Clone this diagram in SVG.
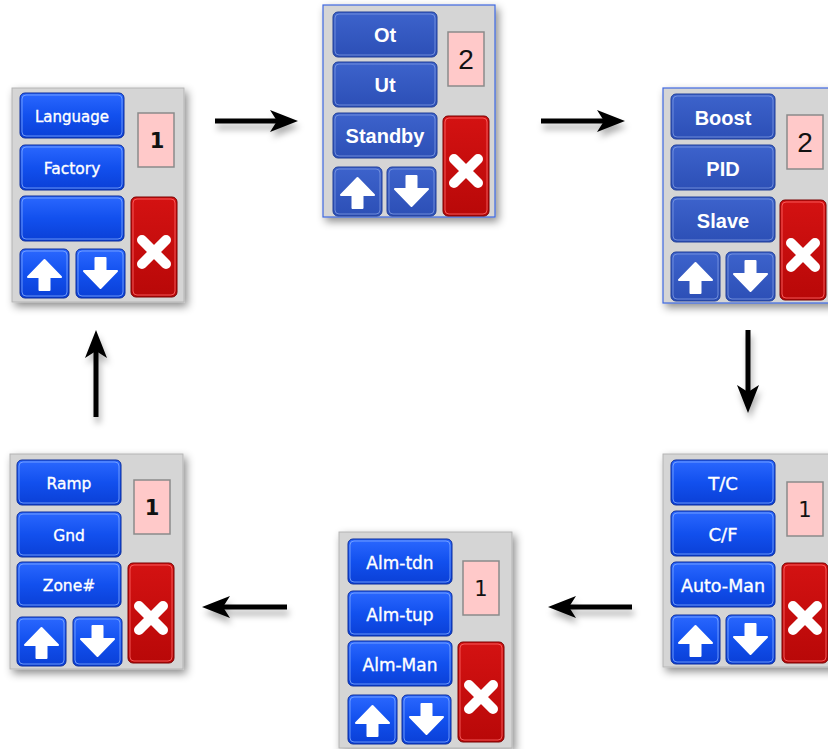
<svg xmlns="http://www.w3.org/2000/svg" xmlns:xlink="http://www.w3.org/1999/xlink" width="828" height="749" viewBox="0 0 828 749">
<style>
.panel{fill:#d5d5d5;stroke:#b4b4b4;stroke-width:1}
.panelB{fill:#d5d5d5;stroke:#3f68e0;stroke-width:1.2}
.tv{font-family:"DejaVu Sans",Verdana,sans-serif;fill:#fff;stroke:#fff;stroke-width:0.35;text-anchor:middle}
.ta{font-family:"Liberation Sans",Arial,sans-serif;font-weight:bold;fill:#fff;text-anchor:middle}
.n1{font-family:"DejaVu Sans",Verdana,sans-serif;font-size:21px;font-weight:bold;fill:#111;text-anchor:middle}
.n2{font-family:"Liberation Sans",Arial,sans-serif;font-size:28px;fill:#111;text-anchor:middle}
.n3{font-family:"DejaVu Sans",Verdana,sans-serif;font-size:21px;fill:#111;text-anchor:middle}
.conn{stroke:#000;stroke-width:5;fill:none}
</style>
<defs>
<filter id="sh" x="-20%" y="-20%" width="150%" height="150%"><feDropShadow dx="3" dy="4" stdDeviation="4" flood-color="#000" flood-opacity="0.45"/></filter>
<filter id="ash" x="-30%" y="-60%" width="160%" height="260%"><feDropShadow dx="2" dy="6" stdDeviation="3" flood-color="#000" flood-opacity="0.3"/></filter>
<linearGradient id="gB" x1="0" y1="0" x2="0" y2="1"><stop offset="0" stop-color="#2b68ff"/><stop offset="0.5" stop-color="#1250ee"/><stop offset="1" stop-color="#0a3fd6"/></linearGradient>
<linearGradient id="gM" x1="0" y1="0" x2="0" y2="1"><stop offset="0" stop-color="#3d63cc"/><stop offset="1" stop-color="#2c4fb6"/></linearGradient>
<linearGradient id="gR" x1="0" y1="0" x2="0" y2="1"><stop offset="0" stop-color="#d41212"/><stop offset="1" stop-color="#b80808"/></linearGradient>
<marker id="ah" viewBox="0 0 28 22" refX="16" refY="11" markerWidth="28" markerHeight="22" markerUnits="userSpaceOnUse" orient="auto"><path d="M0,0 L28,11 L0,22 L7,11 Z" fill="#000"/></marker>
<g id="btnB"><rect x="0" y="0" width="104" height="45" rx="5" fill="url(#gB)" stroke="#0a2c9c"/><rect x="2" y="2" width="100" height="41" rx="4" fill="none" stroke="#8ab0ff" stroke-opacity="0.75"/></g>
<g id="btnM"><rect x="0" y="0" width="104" height="45" rx="5" fill="url(#gM)" stroke="#203f98"/><rect x="2" y="2" width="100" height="41" rx="4" fill="none" stroke="#8aa4e6" stroke-opacity="0.7"/></g>
<polygon id="upA" points="24.5,11 41,28 29.5,28 29.5,41 19.5,41 19.5,28 8,28" fill="#fff" stroke="#fff" stroke-width="2" stroke-linejoin="round"/>
<polygon id="dnA" points="24.5,39 41,22 29.5,22 29.5,9 19.5,9 19.5,22 8,22" fill="#fff" stroke="#fff" stroke-width="2" stroke-linejoin="round"/>
<g id="upB"><rect x="0" y="0" width="49" height="49" rx="5" fill="url(#gB)" stroke="#0a2c9c"/><rect x="2" y="2" width="45" height="45" rx="4" fill="none" stroke="#8ab0ff" stroke-opacity="0.75"/><use xlink:href="#upA"/></g>
<g id="dnB"><rect x="0" y="0" width="49" height="49" rx="5" fill="url(#gB)" stroke="#0a2c9c"/><rect x="2" y="2" width="45" height="45" rx="4" fill="none" stroke="#8ab0ff" stroke-opacity="0.75"/><use xlink:href="#dnA"/></g>
<g id="upM"><rect x="0" y="0" width="49" height="49" rx="5" fill="url(#gM)" stroke="#203f98"/><rect x="2" y="2" width="45" height="45" rx="4" fill="none" stroke="#8aa4e6" stroke-opacity="0.7"/><use xlink:href="#upA"/></g>
<g id="dnM"><rect x="0" y="0" width="49" height="49" rx="5" fill="url(#gM)" stroke="#203f98"/><rect x="2" y="2" width="45" height="45" rx="4" fill="none" stroke="#8aa4e6" stroke-opacity="0.7"/><use xlink:href="#dnA"/></g>
<g id="red"><rect x="0" y="0" width="46" height="100" rx="5" fill="url(#gR)" stroke="#7a0000"/><rect x="2" y="2" width="42" height="96" rx="4" fill="none" stroke="#ff6a6a" stroke-opacity="0.8"/><path d="M11,43 L35,67 M35,43 L11,67" stroke="#fff" stroke-width="10" stroke-linecap="round"/></g>
<g id="num"><rect x="0" y="0" width="36" height="54" fill="#ffc9c9" stroke="#8a8a8a" stroke-width="1.5"/></g>
</defs>

<g id="connectors" filter="url(#ash)">
<line class="conn" x1="215" y1="121" x2="286" y2="121" marker-end="url(#ah)"/>
<line class="conn" x1="541" y1="121" x2="613" y2="121" marker-end="url(#ah)"/>
<line class="conn" x1="748" y1="330" x2="748" y2="401" marker-end="url(#ah)"/>
<line class="conn" x1="632" y1="607" x2="560" y2="607" marker-end="url(#ah)"/>
<line class="conn" x1="287" y1="607" x2="214" y2="607" marker-end="url(#ah)"/>
<line class="conn" x1="96" y1="417" x2="96" y2="342" marker-end="url(#ah)"/>
</g>

<g id="panel-1" transform="translate(12,88)">
<rect class="panel" x="0" y="0" width="172" height="214" filter="url(#sh)"/>
<use xlink:href="#btnB" x="8" y="5"/><use xlink:href="#btnB" x="8" y="57"/><use xlink:href="#btnB" x="8" y="108"/>
<use xlink:href="#upB" x="8" y="161"/><use xlink:href="#dnB" x="64" y="161"/>
<use xlink:href="#num" x="126" y="25"/><use xlink:href="#red" x="119" y="109"/>
<text class="tv" x="60" y="34" font-size="15">Language</text>
<text class="tv" x="60" y="86" font-size="15.5">Factory</text>
<text class="n1" x="145" y="60">1</text>
</g>

<g id="panel-2" transform="translate(323,5)">
<rect class="panelB" x="0" y="0" width="172" height="212" filter="url(#sh)"/>
<use xlink:href="#btnM" x="10" y="7"/><use xlink:href="#btnM" x="10" y="57"/><use xlink:href="#btnM" x="10" y="108"/>
<use xlink:href="#upM" x="10" y="162"/><use xlink:href="#dnM" x="64" y="162"/>
<use xlink:href="#num" x="125" y="27"/><use xlink:href="#red" x="120" y="111"/>
<text class="ta" x="62" y="37" font-size="20">Ot</text>
<text class="ta" x="62" y="87" font-size="20">Ut</text>
<text class="ta" x="62" y="138" font-size="20">Standby</text>
<text class="n2" x="143" y="64">2</text>
</g>

<g id="panel-3" transform="translate(663,88)">
<rect class="panelB" x="0" y="0" width="172" height="215" filter="url(#sh)"/>
<use xlink:href="#btnM" x="8" y="6"/><use xlink:href="#btnM" x="8" y="57"/><use xlink:href="#btnM" x="8" y="109"/>
<use xlink:href="#upM" x="8" y="164"/><use xlink:href="#dnM" x="63" y="164"/>
<use xlink:href="#num" x="124" y="27"/><use xlink:href="#red" x="117" y="112"/>
<text class="ta" x="60" y="37" font-size="20">Boost</text>
<text class="ta" x="60" y="88" font-size="20">PID</text>
<text class="ta" x="60" y="140" font-size="20">Slave</text>
<text class="n2" x="142" y="64">2</text>
</g>

<g id="panel-4" transform="translate(663,454)">
<rect class="panel" x="0" y="0" width="172" height="213" filter="url(#sh)"/>
<use xlink:href="#btnB" x="8" y="6"/><use xlink:href="#btnB" x="8" y="57"/><use xlink:href="#btnB" x="8" y="108"/>
<use xlink:href="#upB" x="8" y="161"/><use xlink:href="#dnB" x="63" y="161"/>
<use xlink:href="#num" x="124" y="28"/><use xlink:href="#red" x="119" y="109"/>
<text class="tv" x="60" y="36" font-size="18">T/C</text>
<text class="tv" x="60" y="87" font-size="18">C/F</text>
<text class="tv" x="60" y="138" font-size="17.5">Auto-Man</text>
<text class="n3" x="142" y="63">1</text>
</g>

<g id="panel-5" transform="translate(339,532)">
<rect class="panel" x="0" y="0" width="173" height="216" filter="url(#sh)"/>
<use xlink:href="#btnB" x="9" y="7"/><use xlink:href="#btnB" x="9" y="59"/><use xlink:href="#btnB" x="9" y="109"/>
<use xlink:href="#upB" x="9" y="163"/><use xlink:href="#dnB" x="63" y="163"/>
<use xlink:href="#num" x="124" y="29"/><use xlink:href="#red" x="119" y="110"/>
<text class="tv" x="61" y="37" font-size="17">Alm-tdn</text>
<text class="tv" x="61" y="89" font-size="17">Alm-tup</text>
<text class="tv" x="61" y="139" font-size="17">Alm-Man</text>
<text class="n3" x="142" y="64">1</text>
</g>

<g id="panel-6" transform="translate(10,454)">
<rect class="panel" x="0" y="0" width="173" height="215" filter="url(#sh)"/>
<use xlink:href="#btnB" x="7" y="6"/><use xlink:href="#btnB" x="7" y="58"/><use xlink:href="#btnB" x="7" y="108"/>
<use xlink:href="#upB" x="7" y="163"/><use xlink:href="#dnB" x="63" y="163"/>
<use xlink:href="#num" x="124" y="26"/><use xlink:href="#red" x="118" y="109"/>
<text class="tv" x="59" y="35" font-size="15.5">Ramp</text>
<text class="tv" x="59" y="87" font-size="15.5">Gnd</text>
<text class="tv" x="59" y="137" font-size="15.5">Zone#</text>
<text class="n1" x="142" y="61">1</text>
</g>
</svg>
